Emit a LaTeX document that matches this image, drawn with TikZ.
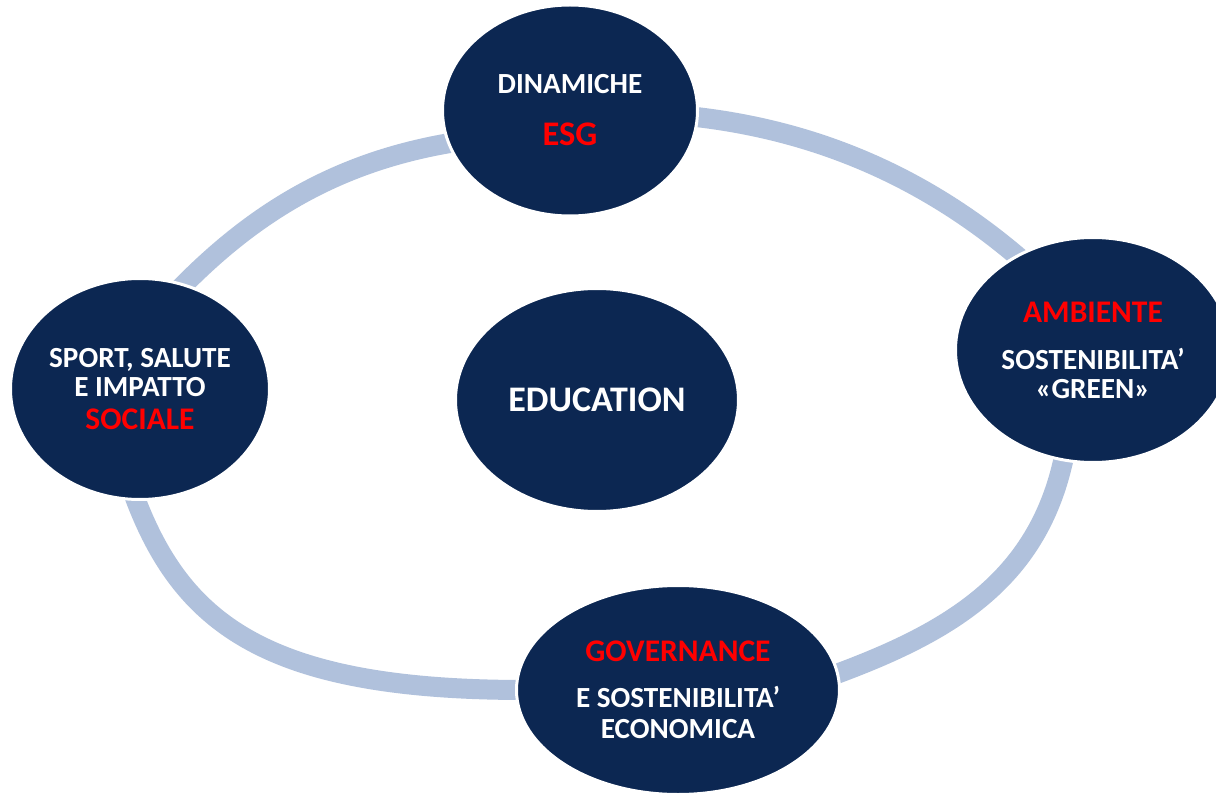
\documentclass[tikz,border=0pt]{standalone}
\usepackage{fontspec}
\setmainfont{Carlito}
\usetikzlibrary{shapes.geometric,backgrounds}
\definecolor{navy}{RGB}{12,39,82}
\definecolor{ringc}{RGB}{176,193,220}
\definecolor{redt}{RGB}{255,0,0}
\newcommand{\bodyfont}{\fontsize{14.6}{14.5}\selectfont}
\newcommand{\ttl}[2]{{\color{redt}\fontsize{#1}{14.5}\selectfont #2}}
\tikzset{
  blob/.style={ellipse, fill=navy, draw=white, line width=1.5pt, inner sep=0pt,
    text=white, align=center, font=\bfseries\bodyfont},
  ring/.style={draw=ringc, line width=10pt, line cap=butt,
    shorten <=-5pt, shorten >=-5pt}
}
\begin{document}
\begin{tikzpicture}[x=0.5pt,y=0.5pt]
\useasboundingbox (0,0) rectangle (1216,794);
\node[blob, minimum width=127.5pt, minimum height=105.5pt] (top) at (570,683.5)
  {DINAMICHE\\[11.5pt]\ttl{17.25}{ESG}};
\node[blob, minimum width=137.5pt, minimum height=112.5pt] (right) at (1093,444)
  {\ttl{15.75}{AMBIENTE}\\[9pt]SOSTENIBILITA’\\«GREEN»};
\node[blob, minimum width=161.5pt, minimum height=104.5pt] (bottom) at (678,104)
  {\ttl{15.75}{GOVERNANCE}\\[8.5pt]E SOSTENIBILITA’\\[1pt]ECONOMICA};
\node[blob, minimum width=129.5pt, minimum height=110.5pt] (left) at (140,405)
  {SPORT, SALUTE\\E IMPATTO\\[2pt]\ttl{15.75}{SOCIALE}};
\node[blob, minimum width=141.5pt, minimum height=111.5pt, font=\bfseries\fontsize{18}{18}\selectfont] (center) at (597,394)
  {EDUCATION};
\begin{scope}[on background layer]
\fill[white] (0,0) rectangle (1216,794);
\draw[ring] (top.195) .. controls +(189:105) and +(46:105) .. (left.67);
\draw[ring] (top.357) .. controls +(354:118) and +(139:118) .. (right.129);
\draw[ring] (right.255) .. controls +(259:120) and +(20:120) .. (bottom.6);
\draw[ring] (left.268) .. controls +(290:130) and +(180:250) .. (bottom.180);
\end{scope}
\end{tikzpicture}
\end{document}
